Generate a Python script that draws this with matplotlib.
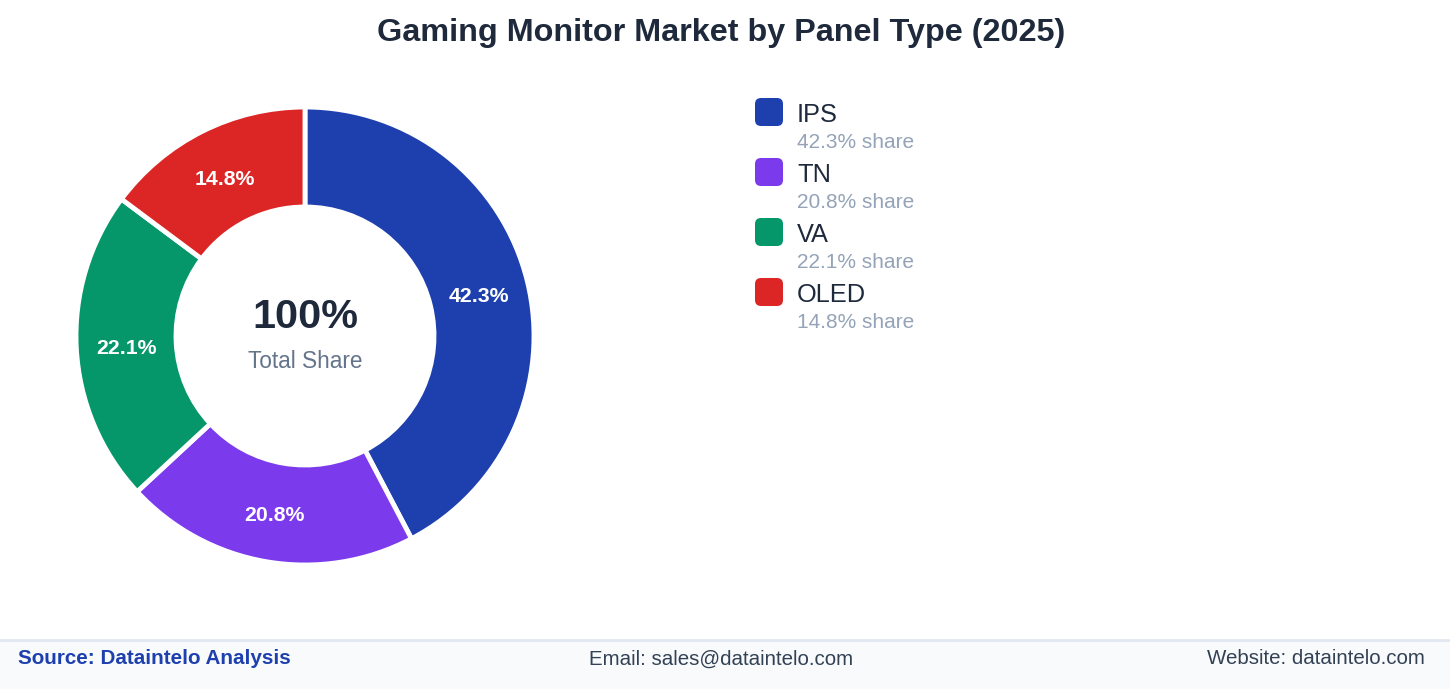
import matplotlib
matplotlib.use("Agg")
import matplotlib.pyplot as plt
from matplotlib.patches import FancyBboxPatch, Rectangle

plt.rcParams['font.family'] = ['Liberation Sans', 'DejaVu Sans']

categories = ["IPS", "TN", "VA", "OLED"]
shares = [42.3, 20.8, 22.1, 14.8]
colors = ["#1e40af", "#7c3aed", "#059669", "#dc2626"]
title = "Gaming Monitor Market by Panel Type (2025)"

W, H = 1450, 689
fig = plt.figure(figsize=(W / 100, H / 100), dpi=100)
ax = fig.add_axes([0, 0, 1, 1])
ax.set_xlim(0, W)
ax.set_ylim(0, H)
ax.set_aspect('equal')
ax.axis('off')

def Y(y):
    return H - y

# Title
ax.text(721.5, Y(33), title, ha='center', va='center', fontsize=23.3,
        fontweight='bold', color='#1e293b')

# Donut
cx, cy, R, r_in = 305, 336, 229, 129
wedges, texts, autotexts = ax.pie(
    shares, colors=colors, startangle=90, counterclock=False,
    center=(cx, Y(cy)), radius=R, autopct='%1.1f%%',
    pctdistance=(R + r_in) / 2 / R,
    wedgeprops=dict(width=R - r_in, edgecolor='white', linewidth=3.5),
    textprops=dict(color='white', fontsize=15.3, fontweight='bold'),
    frame=False)
for t in autotexts:
    x, y = t.get_position()
    t.set_position((x, y - 3))
ax.set_xlim(0, W)
ax.set_ylim(0, H)
ax.axis('off')

ax.text(cx, Y(317), "100%", ha='center', va='center', fontsize=29.8,
        fontweight='bold', color='#1e293b')
ax.text(cx, Y(362), "Total Share", ha='center', va='center', fontsize=16.3,
        color='#64748b')

# Legend
for i, (cat, val, col) in enumerate(zip(categories, shares, colors)):
    y0 = 112 + i * 60
    box = FancyBboxPatch((755, Y(y0) - 14), 28, 28,
                         boxstyle="round,pad=0,rounding_size=6",
                         facecolor=col, edgecolor='none')
    ax.add_patch(box)
    ax.text(797, Y(y0 + 3), cat, ha='left', va='center', fontsize=18.3,
            color='#1e293b')
    ax.text(797, Y(y0 + 31), f"{val}% share", ha='left', va='center',
            fontsize=15, color='#94a3b8')

# Footer
ax.add_patch(Rectangle((0, 0), W, Y(640), facecolor='#f8fafc',
                       edgecolor='none', zorder=0))
ax.plot([0, W], [Y(640), Y(640)], color='#e2e8f0', linewidth=2)
ax.text(18, Y(659), "Source: Dataintelo Analysis", ha='left', va='center',
        fontsize=14.9, fontweight='bold', color='#1e40af')
ax.text(721, Y(659), "Email: sales@dataintelo.com", ha='center', va='center',
        fontsize=14.8, color='#334155')
ax.text(1425, Y(659), "Website: dataintelo.com", ha='right', va='center',
        fontsize=14.8, color='#334155')

fig.savefig("out.png", dpi=100, facecolor='white')
